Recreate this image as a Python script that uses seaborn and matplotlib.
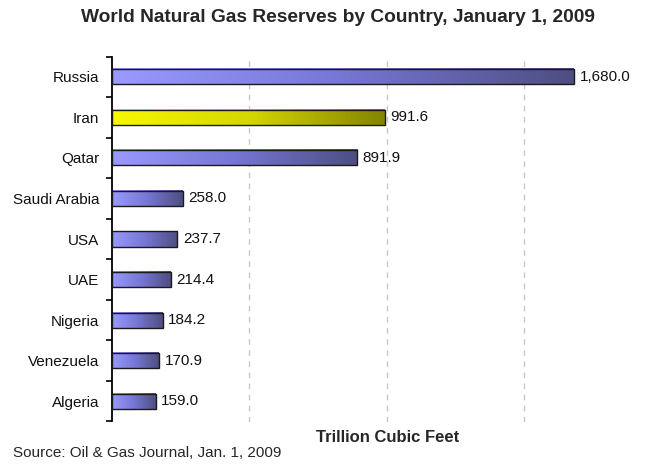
import numpy as np
import pandas as pd
import matplotlib
matplotlib.use("Agg")
import matplotlib.pyplot as plt
from matplotlib.colors import LinearSegmentedColormap
from matplotlib.ticker import FixedLocator, NullFormatter
import seaborn as sns

countries = ["Russia", "Iran", "Qatar", "Saudi Arabia", "USA", "UAE",
             "Nigeria", "Venezuela", "Algeria"]
reserves = [1680.0, 991.6, 891.9, 258.0, 237.7, 214.4, 184.2, 170.9, 159.0]
highlight = "Iran"

title = "World Natural Gas Reserves by Country, January 1, 2009"
xlabel = "Trillion Cubic Feet"
source = "Source: Oil & Gas Journal, Jan. 1, 2009"

df = pd.DataFrame({"country": countries, "reserves": reserves})

sns.set_style("white")
plt.rcParams["font.family"] = ["Liberation Sans", "DejaVu Sans"]

W, H = 655, 465
fig = plt.figure(figsize=(W / 100, H / 100), dpi=100)
ax = fig.add_axes([112 / W, 1 - 421.5 / H, (655 - 112) / W, (421.5 - 56.5) / H])

sns.barplot(data=df, x="reserves", y="country", orient="h", width=0.37,
            color="#8888ee", edgecolor="#1a1a1a", linewidth=1.0, ax=ax)

# horizontal shading, light on the left and darker on the right
blue = LinearSegmentedColormap.from_list("b", ["#9a9aff", "#7676d4", "#4e4e82"])
yellow = LinearSegmentedColormap.from_list("y", ["#f8f800", "#d6d600", "#848400"])
grad = np.linspace(0, 1, 256).reshape(1, -1)

for patch, name in zip(ax.patches, countries):
    x0, y0 = patch.get_x(), patch.get_y()
    w, h = patch.get_width(), patch.get_height()
    cmap = yellow if name == highlight else blue
    ax.imshow(grad, extent=[x0, x0 + w, y0 + h, y0], cmap=cmap,
              aspect="auto", zorder=2, interpolation="bilinear")
    patch.set_facecolor("none")
    patch.set_zorder(3)

for patch, v in zip(ax.patches, reserves):
    ax.text(patch.get_width() + 20, patch.get_y() + patch.get_height() / 2,
            f"{v:,.1f}", va="center", ha="left", fontsize=11, color="#111111")

ax.set_xlim(0, 1975)
ax.set_ylim(len(countries) - 0.5, -0.5)

ax.xaxis.set_major_locator(FixedLocator([500, 1000, 1500]))
ax.xaxis.set_major_formatter(NullFormatter())
ax.tick_params(axis="x", length=0)
ax.grid(axis="x", linestyle=(0, (4, 4)), color="#c8c8c8", linewidth=1.0, zorder=0)
ax.set_axisbelow(True)

ax.yaxis.set_minor_locator(FixedLocator(np.arange(-0.5, len(countries), 1.0)))
ax.tick_params(axis="y", which="major", length=0, labelsize=11, pad=9, labelcolor="#111111")
ax.tick_params(axis="y", which="minor", length=4, width=1.2, color="black", left=True)

for s in ["top", "right", "bottom"]:
    ax.spines[s].set_visible(False)
ax.spines["left"].set_color("black")
ax.spines["left"].set_linewidth(1.3)
ax.set_xlabel("")
ax.set_ylabel("")

fig.text(338 / W, 1 - 17 / H, title, ha="center", va="center",
         fontsize=13.8, fontweight="bold")
fig.text(388 / W, 1 - 437 / H, xlabel, ha="center", va="center",
         fontsize=12, fontweight="bold")
fig.text(13 / W, 1 - 453 / H, source, ha="left", va="center", fontsize=11)

fig.savefig("out.png", dpi=100)
